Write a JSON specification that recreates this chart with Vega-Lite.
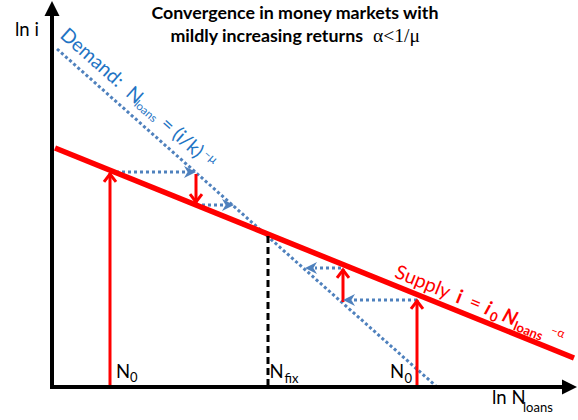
{
  "$schema": "https://vega.github.io/schema/vega-lite/v6.json",
  "width": 578,
  "height": 420,
  "autosize": {"type": "fit", "contains": "padding"},
  "padding": 0,
  "background": "white",
  "config": {"view": {"stroke": null}},
  "datasets": {
    "segs": [
      {"kind": "axis", "x": 52, "y": 31, "x2": 52, "y2": 406},
      {"kind": "axis", "x": 50, "y": 33, "x2": 563, "y2": 33},
      {"kind": "supply", "x": 55, "y": 272, "x2": 574, "y2": 62},
      {"kind": "demand", "x": 57, "y": 371, "x2": 437, "y2": 33},
      {"kind": "red", "x": 110, "y": 33, "x2": 110, "y2": 247},
      {"kind": "red", "x": 196, "y": 246, "x2": 196, "y2": 217},
      {"kind": "red", "x": 417, "y": 33, "x2": 417, "y2": 120},
      {"kind": "red", "x": 343, "y": 118, "x2": 343, "y2": 151},
      {"kind": "blue", "x": 110, "y": 248, "x2": 186, "y2": 248},
      {"kind": "blue", "x": 196, "y": 215, "x2": 224, "y2": 215},
      {"kind": "blue", "x": 417, "y": 120, "x2": 353, "y2": 120},
      {"kind": "blue", "x": 341, "y": 152, "x2": 315, "y2": 152},
      {"kind": "fix", "x": 268, "y": 184, "x2": 268, "y2": 33}
    ],
    "heads": [
      {"kind": "axisUp", "x": 52, "y": 419},
      {"kind": "axisRight", "x": 577, "y": 33},
      {"kind": "redUp", "x": 110, "y": 246},
      {"kind": "redUp", "x": 417, "y": 119},
      {"kind": "redUp", "x": 343, "y": 150},
      {"kind": "redDown", "x": 196, "y": 218},
      {"kind": "blueRight", "x": 196, "y": 248},
      {"kind": "blueRight", "x": 234, "y": 215},
      {"kind": "blueLeft", "x": 343, "y": 120},
      {"kind": "blueLeft", "x": 305, "y": 152}
    ],
    "labels": [
      {"role": "title1", "text": "Convergence in money markets with", "x": 295, "y": 401},
      {"role": "title2", "text": "mildly increasing returns", "x": 363, "y": 378},
      {"role": "greek", "text": "α<1/μ", "x": 373, "y": 378},
      {"role": "lbl", "text": "ln i", "x": 15, "y": 384},
      {"role": "lbl", "text": "ln N", "x": 492, "y": 16.5},
      {"role": "lbl", "text": "N", "x": 116, "y": 42},
      {"role": "lbl", "text": "N", "x": 269.5, "y": 42},
      {"role": "lbl", "text": "N", "x": 390, "y": 42},
      {"role": "sub", "text": "loans", "x": 523, "y": 8.5},
      {"role": "sub", "text": "0", "x": 130, "y": 38},
      {"role": "sub", "text": "fix", "x": 284.5, "y": 37.5},
      {"role": "sub", "text": "0", "x": 404.5, "y": 37.5},
      {"role": "dmain", "text": "Demand:", "x": 59, "y": 383.3},
      {"role": "dmain", "text": "N", "x": 124.8, "y": 324.9},
      {"role": "dmain", "text": "=", "x": 159.2, "y": 294.3},
      {"role": "dmain", "text": "(i/k)", "x": 171.2, "y": 283.7},
      {"role": "dsub", "text": "loans", "x": 133.2, "y": 314.6},
      {"role": "dsup", "text": "–μ", "x": 202.7, "y": 265},
      {"role": "smain", "text": "Supply", "x": 393.5, "y": 142.9},
      {"role": "smain", "text": "=", "x": 467.7, "y": 112.9},
      {"role": "sbold", "text": "i", "x": 454.7, "y": 118.1},
      {"role": "sbi", "text": "i", "x": 483.4, "y": 106.5},
      {"role": "sbi", "text": "N", "x": 501, "y": 99.4},
      {"role": "ssub", "text": "0", "x": 488.4, "y": 100.2},
      {"role": "ssub", "text": "loans", "x": 512.5, "y": 90.4},
      {"role": "ssup", "text": "–α", "x": 550, "y": 87.1}
    ]
  },
  "encoding": {
    "x": {"field": "x", "type": "quantitative", "scale": {"domain": [0, 578], "nice": false, "zero": false}, "axis": null},
    "y": {"field": "y", "type": "quantitative", "scale": {"domain": [0, 420], "nice": false, "zero": false}, "axis": null}
  },
  "layer": [
    {
      "data": {"name": "segs"},
      "transform": [{"filter": "datum.kind === 'demand'"}],
      "mark": {"type": "rule", "color": "#4f81bd", "strokeWidth": 3, "strokeDash": [3, 2.5]},
      "encoding": {"x2": {"field": "x2"}, "y2": {"field": "y2"}}
    },
    {
      "data": {"name": "segs"},
      "transform": [{"filter": "datum.kind === 'blue'"}],
      "mark": {"type": "rule", "color": "#4f81bd", "strokeWidth": 3, "strokeDash": [3, 3]},
      "encoding": {"x2": {"field": "x2"}, "y2": {"field": "y2"}}
    },
    {
      "data": {"name": "segs"},
      "transform": [{"filter": "datum.kind === 'supply'"}],
      "mark": {"type": "rule", "color": "#ff0000", "strokeWidth": 5.5},
      "encoding": {"x2": {"field": "x2"}, "y2": {"field": "y2"}}
    },
    {
      "data": {"name": "segs"},
      "transform": [{"filter": "datum.kind === 'red'"}],
      "mark": {"type": "rule", "color": "#ff0000", "strokeWidth": 3},
      "encoding": {"x2": {"field": "x2"}, "y2": {"field": "y2"}}
    },
    {
      "data": {"name": "segs"},
      "transform": [{"filter": "datum.kind === 'fix'"}],
      "mark": {"type": "rule", "color": "#000000", "strokeWidth": 3, "strokeDash": [7, 4]},
      "encoding": {"x2": {"field": "x2"}, "y2": {"field": "y2"}}
    },
    {
      "data": {"name": "segs"},
      "transform": [{"filter": "datum.kind === 'axis'"}],
      "mark": {"type": "rule", "color": "#000000", "strokeWidth": 4},
      "encoding": {"x2": {"field": "x2"}, "y2": {"field": "y2"}}
    },
    {
      "data": {"name": "heads"},
      "transform": [{"filter": "datum.kind === 'axisUp'"}],
      "mark": {"type": "point", "shape": "M0,0L-1,2L1,2Z", "size": 225, "filled": true, "color": "#000000", "opacity": 1}
    },
    {
      "data": {"name": "heads"},
      "transform": [{"filter": "datum.kind === 'axisRight'"}],
      "mark": {"type": "point", "shape": "M0,0L-2,-1L-2,1Z", "size": 225, "filled": true, "color": "#000000", "opacity": 1}
    },
    {
      "data": {"name": "heads"},
      "transform": [{"filter": "datum.kind === 'redUp'"}],
      "mark": {"type": "point", "shape": "M-1,1.3L0,0L1,1.3", "size": 144, "filled": false, "color": "#ff0000", "strokeWidth": 3, "opacity": 1}
    },
    {
      "data": {"name": "heads"},
      "transform": [{"filter": "datum.kind === 'redDown'"}],
      "mark": {"type": "point", "shape": "M-1,-1.3L0,0L1,-1.3", "size": 144, "filled": false, "color": "#ff0000", "strokeWidth": 3, "opacity": 1}
    },
    {
      "data": {"name": "heads"},
      "transform": [{"filter": "datum.kind === 'blueRight'"}],
      "mark": {"type": "point", "shape": "M0,0L-2,-1L-1.4,0L-2,1Z", "size": 144, "filled": true, "color": "#4f81bd", "opacity": 1}
    },
    {
      "data": {"name": "heads"},
      "transform": [{"filter": "datum.kind === 'blueLeft'"}],
      "mark": {"type": "point", "shape": "M0,0L2,-1L1.4,0L2,1Z", "size": 144, "filled": true, "color": "#4f81bd", "opacity": 1}
    },
    {
      "data": {"name": "labels"},
      "transform": [{"filter": "datum.role === 'title1'"}],
      "mark": {"type": "text", "font": "Lato", "fontWeight": "bold", "fontSize": 17.8, "align": "center", "baseline": "alphabetic", "color": "#000000"},
      "encoding": {"text": {"field": "text"}}
    },
    {
      "data": {"name": "labels"},
      "transform": [{"filter": "datum.role === 'title2'"}],
      "mark": {"type": "text", "font": "Lato", "fontWeight": "bold", "fontSize": 17.8, "align": "right", "baseline": "alphabetic", "color": "#000000"},
      "encoding": {"text": {"field": "text"}}
    },
    {
      "data": {"name": "labels"},
      "transform": [{"filter": "datum.role === 'greek'"}],
      "mark": {"type": "text", "font": "Liberation Serif", "fontSize": 19.5, "align": "left", "baseline": "alphabetic", "color": "#000000"},
      "encoding": {"text": {"field": "text"}}
    },
    {
      "data": {"name": "labels"},
      "transform": [{"filter": "datum.role === 'lbl'"}],
      "mark": {"type": "text", "font": "Lato", "fontSize": 18.5, "align": "left", "baseline": "alphabetic", "color": "#000000"},
      "encoding": {"text": {"field": "text"}}
    },
    {
      "data": {"name": "labels"},
      "transform": [{"filter": "datum.role === 'sub'"}],
      "mark": {"type": "text", "font": "Lato", "fontSize": 13, "align": "left", "baseline": "alphabetic", "color": "#000000"},
      "encoding": {"text": {"field": "text"}}
    },
    {
      "data": {"name": "labels"},
      "transform": [{"filter": "datum.role === 'dmain'"}],
      "mark": {"type": "text", "font": "Lato", "fontSize": 19.5, "align": "left", "baseline": "alphabetic", "angle": 41.6, "color": "#1f74c4"},
      "encoding": {"text": {"field": "text"}}
    },
    {
      "data": {"name": "labels"},
      "transform": [{"filter": "datum.role === 'dsub'"}],
      "mark": {"type": "text", "font": "Lato", "fontSize": 11.5, "align": "left", "baseline": "alphabetic", "angle": 41.6, "color": "#1f74c4"},
      "encoding": {"text": {"field": "text"}}
    },
    {
      "data": {"name": "labels"},
      "transform": [{"filter": "datum.role === 'dsup'"}],
      "mark": {"type": "text", "font": "Lato", "fontSize": 12, "align": "left", "baseline": "alphabetic", "angle": 41.6, "color": "#1f74c4"},
      "encoding": {"text": {"field": "text"}}
    },
    {
      "data": {"name": "labels"},
      "transform": [{"filter": "datum.role === 'smain'"}],
      "mark": {"type": "text", "font": "Lato", "fontSize": 19.5, "align": "left", "baseline": "alphabetic", "angle": 22, "color": "#ff0000"},
      "encoding": {"text": {"field": "text"}}
    },
    {
      "data": {"name": "labels"},
      "transform": [{"filter": "datum.role === 'sbold'"}],
      "mark": {"type": "text", "font": "Lato", "fontWeight": "bold", "fontSize": 19.5, "align": "left", "baseline": "alphabetic", "angle": 22, "color": "#ff0000"},
      "encoding": {"text": {"field": "text"}}
    },
    {
      "data": {"name": "labels"},
      "transform": [{"filter": "datum.role === 'sbi'"}],
      "mark": {"type": "text", "font": "Lato", "fontWeight": "bold", "fontStyle": "italic", "fontSize": 19.5, "align": "left", "baseline": "alphabetic", "angle": 22, "color": "#ff0000"},
      "encoding": {"text": {"field": "text"}}
    },
    {
      "data": {"name": "labels"},
      "transform": [{"filter": "datum.role === 'ssub'"}],
      "mark": {"type": "text", "font": "Lato", "fontWeight": "bold", "fontSize": 13, "align": "left", "baseline": "alphabetic", "angle": 22, "color": "#ff0000"},
      "encoding": {"text": {"field": "text"}}
    },
    {
      "data": {"name": "labels"},
      "transform": [{"filter": "datum.role === 'ssup'"}],
      "mark": {"type": "text", "font": "Lato", "fontSize": 12, "align": "left", "baseline": "alphabetic", "angle": 22, "color": "#ff0000"},
      "encoding": {"text": {"field": "text"}}
    }
  ]
}
